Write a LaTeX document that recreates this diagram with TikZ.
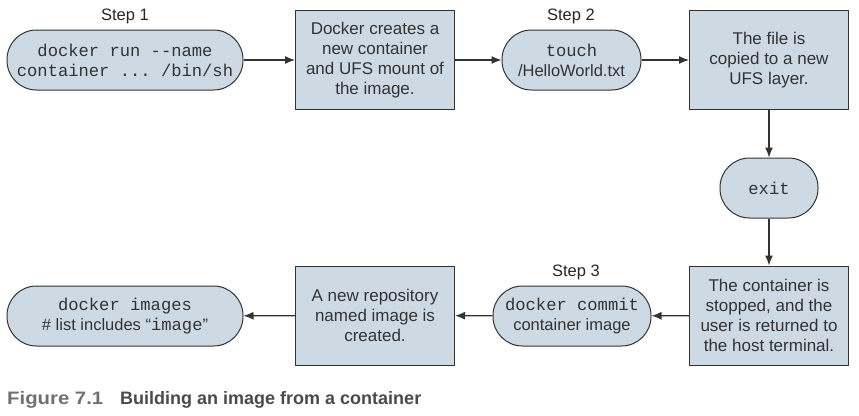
\documentclass[tikz,border=0pt]{standalone}
\usepackage{fontspec}
\setmainfont{Liberation Sans}
\setmonofont[Scale=1.04]{Liberation Mono}
\usetikzlibrary{arrows.meta}
\definecolor{boxfill}{HTML}{CDDAE4}
\definecolor{edge}{HTML}{333333}
\definecolor{capgray}{HTML}{707070}
\definecolor{captext}{HTML}{4A4A4A}
\tikzset{
  cmd/.style={draw=edge, fill=boxfill, line width=1pt, rounded corners=29.5pt,
    minimum height=60pt, inner sep=0pt, align=center, text=black!80,
    font=\fontsize{16.5}{20}\selectfont},
  stepbox/.style={draw=edge, fill=boxfill, line width=1pt, minimum width=159pt,
    minimum height=99pt, inner sep=0pt, align=center, text=black!80,
    font=\fontsize{17}{20}\selectfont},
  steplabel/.style={text=black!85, font=\fontsize{16.5}{19}\selectfont},
  flow/.style={-{Latex[length=10pt,width=8pt]}, line width=1.3pt, draw=edge}
}
\begin{document}
\begin{tikzpicture}[x=1pt,y=-1pt]
  \useasboundingbox (0,0) rectangle (859,415);
  % top row
  \node[cmd, minimum width=236pt] (run) at (125,60) {\texttt{docker run --name}\\\texttt{container ... /bin/sh}};
  \node[stepbox] (create) at (375,60) {Docker creates a\\new container\\and UFS mount of\\the image.};
  \node[cmd, minimum width=139pt] (touch) at (571.5,60) {\texttt{touch}\\/HelloWorld.txt};
  \node[stepbox] (copy) at (769,60) {The file is\\copied to a new\\UFS layer.};
  % right column
  \node[cmd, minimum width=98pt] (exit) at (769,188) {\texttt{exit}};
  % bottom row
  \node[stepbox] (stopped) at (769,315.5) {The container is\\stopped, and the\\user is returned to\\the host terminal.};
  \node[cmd, minimum width=158pt] (commit) at (572,316) {\texttt{docker commit}\\container image};
  \node[stepbox] (repo) at (375,315.5) {A new repository\\named image is\\created.};
  \node[cmd, minimum width=236pt] (images) at (125,316) {\texttt{docker images}\\\# list includes “\texttt{image}”};
  % step labels
  \node[steplabel] (s1) at (125,16) {Step 1};
  \node[steplabel] (s2) at (571,16) {Step 2};
  \node[steplabel] (s3) at (576,272) {Step 3};
  % connectors
  \draw[flow] (run) -- (create);
  \draw[flow] (create) -- (touch);
  \draw[flow] (touch) -- (copy);
  \draw[flow] (copy) -- (exit);
  \draw[flow] (exit) -- (stopped);
  \draw[flow] (stopped) -- (commit);
  \draw[flow] (commit) -- (repo);
  \draw[flow] (repo) -- (images);
  % caption
  \node[anchor=base west, inner sep=0pt, text=capgray, font=\bfseries\fontsize{18}{20}\selectfont] (fig) at (7,404)
    {\scalebox{1.13}[1]{Figure 7.1}};
  \node[anchor=base west, inner sep=0pt, text=captext, font=\bfseries\fontsize{18}{20}\selectfont] (cap) at (120,404)
    {Building an image from a container};
\end{tikzpicture}
\end{document}
